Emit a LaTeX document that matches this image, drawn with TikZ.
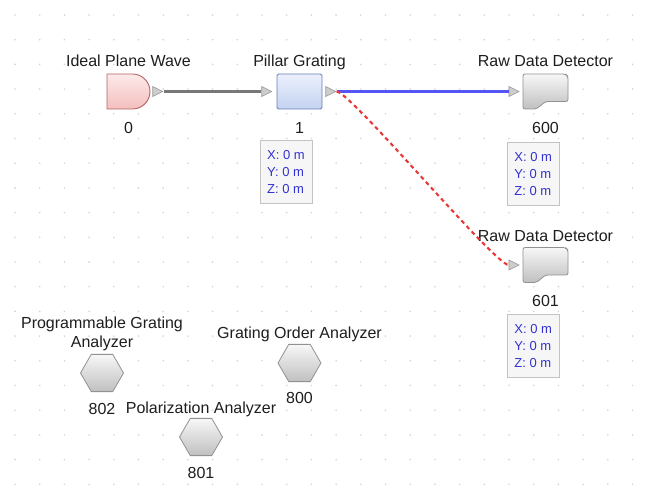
\documentclass[tikz,border=0pt]{standalone}
\usepackage{fontspec}
\setmainfont{Liberation Sans}
\usetikzlibrary{positioning,shapes.geometric,shapes.misc}

\definecolor{textdark}{RGB}{30,30,30}
\definecolor{coordblue}{RGB}{50,50,210}
\definecolor{griddot}{RGB}{212,212,212}
\definecolor{sourcetop}{RGB}{253,234,234}
\definecolor{sourcebottom}{RGB}{244,190,190}
\definecolor{sourceedge}{RGB}{180,100,100}
\definecolor{gratingtop}{RGB}{236,240,252}
\definecolor{gratingbottom}{RGB}{196,210,240}
\definecolor{gratingedge}{RGB}{100,128,185}
\definecolor{devtop}{RGB}{247,247,247}
\definecolor{devbottom}{RGB}{192,192,192}
\definecolor{devedge}{RGB}{145,145,145}
\definecolor{portfill}{RGB}{205,205,205}
\definecolor{portedge}{RGB}{150,150,150}
\definecolor{wiregray}{RGB}{120,120,120}
\definecolor{wireblue}{RGB}{85,85,245}
\definecolor{wirered}{RGB}{235,55,55}
\definecolor{infofill}{RGB}{246,246,246}
\definecolor{infoedge}{RGB}{195,195,195}

\begin{document}
\begin{tikzpicture}[
    x=1pt, y=-1pt,
    caption/.style={font=\fontsize{16}{19}\selectfont, text=textdark, inner sep=0pt, text height=12pt, text depth=3pt},
    caption2/.style={font=\fontsize{16}{19}\selectfont, text=textdark, inner sep=0pt, align=center},
    port/.style={isosceles triangle, isosceles triangle stretches, minimum width=10pt, minimum height=10pt, inner sep=0pt, fill=portfill, draw=portedge, line width=0.6pt},
    source/.style={rounded rectangle, rounded rectangle left arc=none, minimum width=43pt, minimum height=35pt, inner sep=0pt, top color=sourcetop, bottom color=sourcebottom, draw=sourceedge, line width=0.9pt},
    grating/.style={rectangle, rounded corners=1.5pt, minimum width=45pt, minimum height=35pt, inner sep=0pt, top color=gratingtop, bottom color=gratingbottom, draw=gratingedge, line width=0.9pt},
    detbox/.style={rectangle, minimum width=45pt, minimum height=35pt, inner sep=0pt},
    detshade/.style={top color=devtop, bottom color=devbottom, draw=devedge, line width=0.8pt, rounded corners=2pt},
    analyzer/.style={regular polygon, regular polygon sides=6, minimum size=43pt, inner sep=0pt, top color=devtop, bottom color=devbottom, draw=devedge, line width=0.8pt},
    infobox/.style={rectangle, draw=infoedge, fill=infofill, line width=0.8pt, align=left, font=\fontsize{13}{17}\selectfont, text=coordblue, inner sep=0pt, minimum width=52pt, minimum height=63pt},
    wire/.style={line width=2.1pt},
]
    \useasboundingbox (0,0) rectangle (650,502);
    \fill[white] (0,0) rectangle (650,502);

    % Canvas grid
    \foreach \i in {0,...,25}
        \foreach \j in {0,...,19}
            \fill[griddot] (15+24.7*\i, 15+24.7*\j) circle (0.9);

    % Row 1: source, grating, first detector
    \node [source] (wave) at (128.5,91.5) {};
    \node [grating] (grating) at (299.5,91.5) {};
    \node [detbox] (det600) at (545.5,91.5) {};

    % Second detector
    \node [detbox] (det601) at (545.5,265) {};

    % Detector outlines
    \foreach \d in {det600,det601}
        \shadedraw [detshade, shift={(\d.center)}] (-22.5,-17.5) -- (20,-17.5) -- (22.5,-15) -- (22.5,10)
            -- (4,10) .. controls (-3,10) and (-6,17.5) .. (-13,17.5) -- (-22.5,17.5) -- cycle;

    % Ports
    \node [port, right=2pt of wave] (wave-out) {};
    \node [port, left=4pt of grating] (grating-in) {};
    \node [port, right=3pt of grating] (grating-out) {};
    \node [port, left=3pt of det600] (det600-in) {};
    \node [port, left=3pt of det601] (det601-in) {};

    % Captions
    \node [caption, above=4pt of wave] {Ideal Plane Wave};
    \node [caption, above=4pt of grating] {Pillar Grating};
    \node [caption, above=4pt of det600] {Raw Data Detector};
    \node [caption, above=3pt of det601] {Raw Data Detector};

    % Numbers
    \node [caption, below=12pt of wave] (wave-num) {0};
    \node [caption, below=12pt of grating] (grating-num) {1};
    \node [caption, below=12pt of det600] (det600-num) {600};
    \node [caption, below=12pt of det601] (det601-num) {601};

    % Position boxes
    \node [infobox, below=31pt of grating.south west, anchor=north west, xshift=-17pt] (grating-xyz) {X: 0 m\\Y: 0 m\\Z: 0 m};
    \node [infobox, below=33pt of det600.south west, anchor=north west, xshift=-16pt] (det600-xyz) {X: 0 m\\Y: 0 m\\Z: 0 m};
    \node [infobox, below=31pt of det601.south west, anchor=north west, xshift=-16pt] (det601-xyz) {X: 0 m\\Y: 0 m\\Z: 0 m};

    % Connectors
    \draw [wire, color=wiregray] (wave-out.east) -- (grating-in.west);
    \draw [wire, color=wireblue] (grating-out.east) -- (det600-in.west);
    \draw [wire, color=wirered, dash pattern=on 4pt off 3.5pt] (grating-out.east) .. controls +(14,0) and +(-14,0) .. (det601-in.west);

    % Analyzers
    \node [analyzer] (an802) at (102,373) {};
    \node [analyzer] (an800) at (299.5,363) {};
    \node [analyzer] (an801) at (201,437) {};

    \node [caption2, above=3pt of an802] {Programmable Grating\\Analyzer};
    \node [caption, above=2pt of an800] {Grating Order Analyzer};
    \node [caption, above=1pt of an801] {Polarization Analyzer};

    \node [caption, below=10pt of an802] (an802-num) {802};
    \node [caption, below=9pt of an800] (an800-num) {800};
    \node [caption, below=10pt of an801] (an801-num) {801};
\end{tikzpicture}
\end{document}
